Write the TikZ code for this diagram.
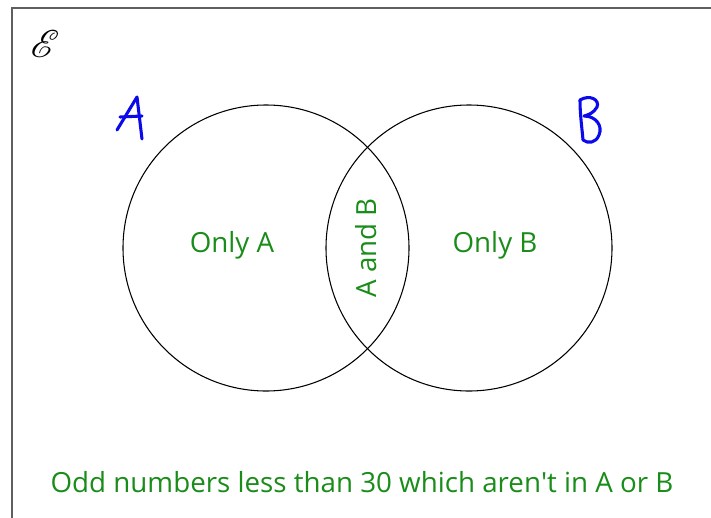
\documentclass[tikz,border=0pt]{standalone}
\usepackage{fontspec}
\setsansfont{Open Sans}
\usepackage{mathrsfs}
\definecolor{regiongreen}{RGB}{25,140,25}
\definecolor{handblue}{RGB}{10,10,235}
\definecolor{framegray}{RGB}{95,95,95}
\begin{document}
\begin{tikzpicture}[x=0.75pt,y=-0.75pt,
    label text/.style={text=regiongreen, inner sep=0pt, font=\sffamily\fontsize{20.8}{20.8}\selectfont},
    hand/.style={draw=handblue, line width=2.3pt, line cap=round, line join=round}]
        \useasboundingbox (0,0) rectangle (711,518);
        \clip (0,0) rectangle (711,518);
        % --- Parameters ---
        \pgfmathsetmacro{\ax}{266}
        \pgfmathsetmacro{\bx}{469}
        \pgfmathsetmacro{\cy}{248}
        \pgfmathsetmacro{\cr}{143}
        % --- Universal set ---
        \draw[framegray, line width=1.5pt] (12,8) rectangle (730,540);
        \node[inner sep=0pt] (univ) at (45,44) {\scalebox{2.9}{$\mathscr{E}$}};
        % --- The two sets ---
        \draw[line width=0.8pt] (\ax,\cy) circle (\cr);
        \draw[line width=0.8pt] (\bx,\cy) circle (\cr);
        % --- Region labels ---
        \node[label text] (onlyA) at (232,245) {Only A};
        \node[label text] (onlyB) at (495,245) {Only B};
        \node[label text, rotate=90] (both) at (366,248) {A and B};
        \node[label text] (neither) at (362,482) {Odd numbers less than 30 which aren\textquotesingle t in A or B};
        % --- Handwritten set names ---
        \draw[hand] (117,130) -- (137,97) -- (142,139);
        \draw[hand] (120,117) -- (142,116);
        \draw[hand] (580,100) .. controls (580,115) and (582,128) .. (583,140);
        \draw[hand] (580,100) .. controls (590,94) and (600,100) .. (597,107)
            .. controls (594,113) and (588,115) .. (584,116)
            .. controls (596,116) and (603,126) .. (599,135)
            .. controls (596,143) and (588,144) .. (583,140);
\end{tikzpicture}
\end{document}
